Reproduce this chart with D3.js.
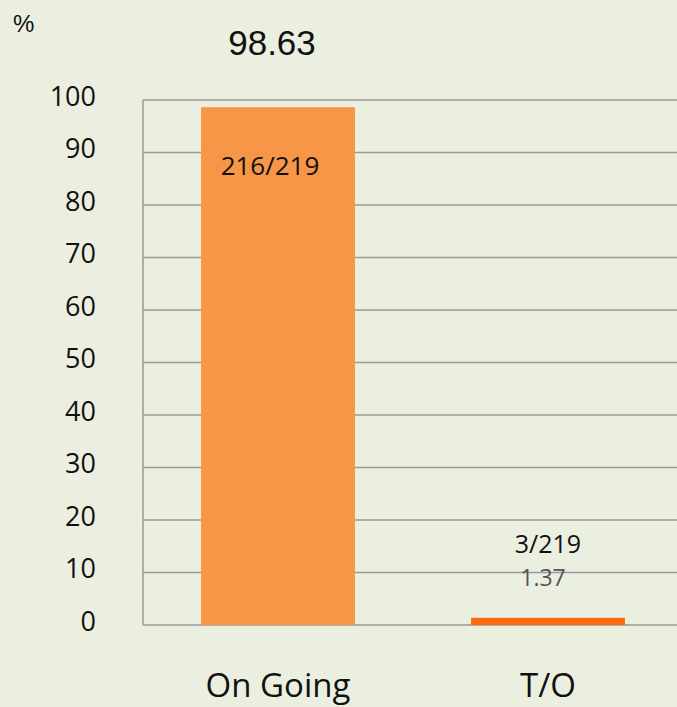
<!DOCTYPE html>
<html>
<head>
<meta charset="utf-8">
<script src="https://cdn.jsdelivr.net/npm/d3@7"></script>
<style>
  html, body { margin: 0; padding: 0; background: #ebefe0; }
  svg { display: block; }
  .hum { font-family: "Open Sans", "Noto Sans", sans-serif; font-weight: 400; }
</style>
</head>
<body>
<svg id="chart"></svg>
<script>
var categories = ['On Going', 'T/O'];
var percents = [98.63, 1.37];
var counts = ['216/219', '3/219'];
var barColors = ['#f79646', '#fd6a0d'];
var yTicks = [0, 10, 20, 30, 40, 50, 60, 70, 80, 90, 100];

var width = 677, height = 707;
var margin = {top: 100, right: -6, bottom: 82, left: 143};
var innerW = width - margin.left - margin.right;
var innerH = height - margin.top - margin.bottom;

var svg = d3.select('#chart')
    .attr('width', width)
    .attr('height', height);

var g = svg.append('g')
    .attr('transform', 'translate(' + margin.left + ',' + margin.top + ')');

var x = d3.scaleBand()
    .domain(categories)
    .range([0, innerW])
    .paddingInner(0.43)
    .paddingOuter(0.215);

var y = d3.scaleLinear()
    .domain([0, 100])
    .range([innerH, 0]);

// gridlines
g.selectAll('.grid')
  .data(yTicks)
  .enter().append('line')
  .attr('class', 'grid')
  .attr('x1', 0)
  .attr('x2', innerW)
  .attr('y1', function(d) { return y(d); })
  .attr('y2', function(d) { return y(d); })
  .style('stroke', '#9a9a9a')
  .style('stroke-width', 1.5);

g.append('line')
  .attr('x1', 0).attr('x2', 0)
  .attr('y1', y(100)).attr('y2', y(0))
  .style('stroke', '#9a9a9a')
  .style('stroke-width', 1.5);

// y tick labels
var yAxis = d3.axisLeft(y).tickValues(yTicks).tickSize(0).tickPadding(47);
g.append('g')
  .call(yAxis)
  .call(function(a) { a.select('.domain').remove(); })
  .selectAll('text')
  .attr('class', 'hum')
  .attr('dy', '0.2em')
  .style('font-size', '27px')
  .style('fill', '#111');

// bars
g.selectAll('.bar')
  .data(categories)
  .enter().append('rect')
  .attr('class', 'bar')
  .attr('x', function(d) { return x(d); })
  .attr('width', x.bandwidth())
  .attr('y', function(d, i) { return y(percents[i]); })
  .attr('height', function(d, i) { return y(0) - y(percents[i]); })
  .style('fill', function(d, i) { return barColors[i]; });

// x category labels
var xAxis = d3.axisBottom(x).tickSize(0).tickPadding(0);
g.append('g')
  .attr('transform', 'translate(0,' + innerH + ')')
  .call(xAxis)
  .call(function(a) { a.select('.domain').remove(); })
  .selectAll('text')
  .attr('class', 'hum')
  .attr('dy', null)
  .attr('y', 72)
  .style('font-size', '33px')
  .style('fill', '#111');

// value labels
g.append('text')
  .attr('x', x(categories[0]) + x.bandwidth() / 2 - 6)
  .attr('y', -45)
  .attr('text-anchor', 'middle')
  .style('font-family', '"Liberation Sans", Arial, sans-serif')
  .style('font-size', '35px')
  .style('fill', '#111')
  .text(percents[0].toFixed(2));

g.append('text')
  .attr('class', 'hum')
  .attr('x', x(categories[0]) + x.bandwidth() / 2 - 8)
  .attr('y', y(percents[0]) + 68)
  .attr('text-anchor', 'middle')
  .style('font-size', '26px')
  .style('fill', '#111')
  .text(counts[0]);

g.append('text')
  .attr('class', 'hum')
  .attr('x', x(categories[1]) + x.bandwidth() / 2)
  .attr('y', y(percents[1]) - 65)
  .attr('text-anchor', 'middle')
  .style('font-size', '25px')
  .style('fill', '#111')
  .text(counts[1]);

g.append('text')
  .attr('class', 'hum')
  .attr('x', x(categories[1]) + x.bandwidth() / 2 - 5)
  .attr('y', y(percents[1]) - 32)
  .attr('text-anchor', 'middle')
  .style('font-size', '23px')
  .style('fill', '#555')
  .text(percents[1].toFixed(2));

// unit label
svg.append('text')
  .attr('x', 13)
  .attr('y', 32)
  .style('font-family', '"Liberation Sans", Arial, sans-serif')
  .style('font-size', '24px')
  .style('fill', '#111')
  .text('%');
</script>
</body>
</html>
